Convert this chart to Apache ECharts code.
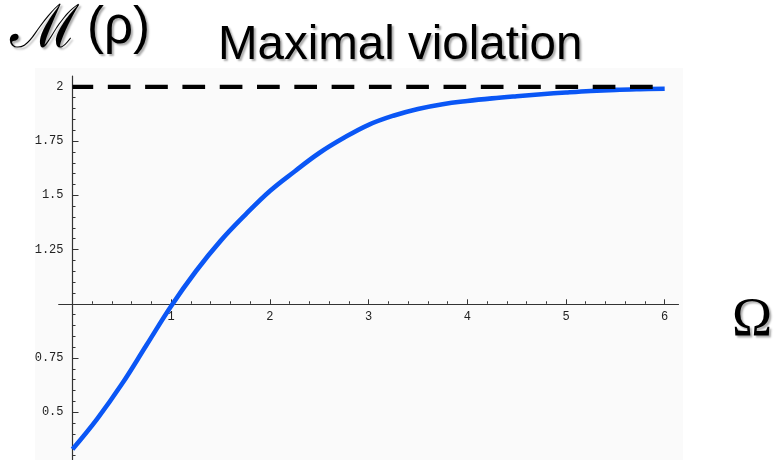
<!DOCTYPE html>
<html>
<head>
<meta charset="utf-8">
<script src="https://cdn.jsdelivr.net/npm/echarts@6/dist/echarts.min.js"></script>
<style>
  html, body { margin: 0; padding: 0; background: #ffffff; }
  #chart { width: 774px; height: 460px; }
</style>
</head>
<body>
<div id="chart"></div>
<script>
// Horodecki quantity M(rho) against Omega
const omega = [0, 0.25, 0.5, 0.75, 1.0, 1.25, 1.5, 1.75, 2.0, 2.25, 2.5, 2.75, 3.0,
               3.25, 3.5, 3.75, 4.0, 4.25, 4.5, 4.75, 5.0, 5.25, 5.5, 5.75, 6.0];
const mValues = [0.33, 0.47, 0.63, 0.81, 0.99, 1.15, 1.29, 1.41, 1.52, 1.61, 1.695, 1.765, 1.825,
                 1.867, 1.898, 1.92, 1.935, 1.947, 1.957, 1.966, 1.974, 1.981, 1.986, 1.989, 1.991];

// maximal violation bound
const maxBound = 2;
const boundRange = [0, 6];

// tick labels
const xTickLabels = [1, 2, 3, 4, 5, 6];
const yTickLabels = [0.5, 0.75, 1.25, 1.5, 1.75, 2];

// axis layout: the axes cross at (0, 1)
const X_MIN = -0.14, X_MAX = 6.14;
const Y_MIN = 0.28, Y_MAX = 2.05;
const X_AXIS_AT = 1;
const Y_AXIS_AT = 0;
const GRID = { left: 58.7, top: 76, width: 619.8, height: 384 };
const xAxisOffset = -((X_AXIS_AT - Y_MIN) / (Y_MAX - Y_MIN)) * GRID.height;
const yAxisOffset = -((Y_AXIS_AT - X_MIN) / (X_MAX - X_MIN)) * GRID.width;

// minor tick positions
const round2 = v => Math.round(v * 100) / 100;
const xMinorTicks = [];
for (let i = 1; i <= 30; i++) xMinorTicks.push(round2(i * 0.2));
const yMinorTicks = [];
for (let i = 6; i <= 40; i++) yMinorTicks.push(round2(i * 0.05));

const axisColor = '#333333';
const labelFont = { fontFamily: '"Liberation Mono", monospace', fontSize: 12, color: '#222222' };

const chart = echarts.init(document.getElementById('chart'), null, { renderer: 'canvas' });

const shadow = { textShadowColor: 'rgba(0,0,0,0.33)', textShadowBlur: 2, textShadowOffsetX: 2, textShadowOffsetY: 2 };

function xAxisDef(major) {
  return {
    type: 'value', min: X_MIN, max: X_MAX, position: 'bottom', offset: xAxisOffset,
    axisLine: { onZero: false, lineStyle: { color: axisColor, width: 1.2, opacity: major ? 0 : 1 } },
    axisTick: { inside: true, length: major ? 4.5 : 2.5, customValues: major ? xTickLabels : xMinorTicks,
                lineStyle: { color: axisColor, width: 1 } },
    axisLabel: major ? Object.assign({ customValues: xTickLabels, margin: 7 }, labelFont) : { show: false },
    splitLine: { show: false }
  };
}
function yAxisDef(major) {
  return {
    type: 'value', min: Y_MIN, max: Y_MAX, position: 'left', offset: yAxisOffset,
    axisLine: { onZero: false, lineStyle: { color: axisColor, width: 1.2, opacity: major ? 0 : 1 } },
    axisTick: { inside: true, length: major ? 6 : 3, customValues: major ? yTickLabels : yMinorTicks,
                lineStyle: { color: axisColor, width: 1 } },
    axisLabel: major ? Object.assign({ customValues: yTickLabels, margin: 9 }, labelFont) : { show: false },
    splitLine: { show: false }
  };
}

const option = {
  animation: false,
  backgroundColor: '#ffffff',
  grid: { left: GRID.left, top: GRID.top, width: GRID.width, height: GRID.height },
  xAxis: [xAxisDef(false), xAxisDef(true)],
  yAxis: [yAxisDef(false), yAxisDef(true)],
  series: [
    {
      name: 'M(rho)',
      type: 'line',
      xAxisIndex: 0, yAxisIndex: 0,
      data: omega.map((w, i) => [w, mValues[i]]),
      smooth: 0.4,
      symbol: 'none',
      lineStyle: { color: '#0a56f5', width: 4.6 },
      z: 3
    },
    {
      name: 'bound',
      type: 'line',
      xAxisIndex: 0, yAxisIndex: 0,
      data: boundRange.map(w => [w, maxBound]),
      symbol: 'none',
      lineStyle: { color: '#000000', width: 4.3, type: [22.7, 14.6], dashOffset: 2, cap: 'butt' },
      z: 4
    }
  ],
  graphic: [
    {
      type: 'rect', z: -10, silent: true,
      shape: { x: 35, y: 68, width: 648, height: 392 },
      style: { fill: '#fafafa' }
    },
    {
      type: 'text', x: 218, y: 46, z: 10,
      style: Object.assign({ text: 'Maximal violation', font: '47.5px "Liberation Sans", Arial, sans-serif',
                             fill: '#000000', verticalAlign: 'middle', align: 'left' }, shadow)
    },
    {
      type: 'text', x: 10, y: 31, z: 10,
      style: Object.assign({ text: 'ℳ', font: '60px "DejaVu Serif", serif',
                             fill: '#000000', verticalAlign: 'middle', align: 'left' }, shadow)
    },
    {
      type: 'text', x: 87, y: 29, z: 10,
      style: Object.assign({ text: '(ρ)', font: '51px "Liberation Sans", Arial, sans-serif',
                             fill: '#000000', verticalAlign: 'middle', align: 'left' }, shadow)
    },
    {
      type: 'text', x: 732, y: 321, z: 10,
      style: Object.assign({ text: 'Ω', font: '54px "Liberation Serif", "Times New Roman", serif',
                             fill: '#000000', verticalAlign: 'middle', align: 'left' }, shadow)
    }
  ]
};

chart.setOption(option);
</script>
</body>
</html>
